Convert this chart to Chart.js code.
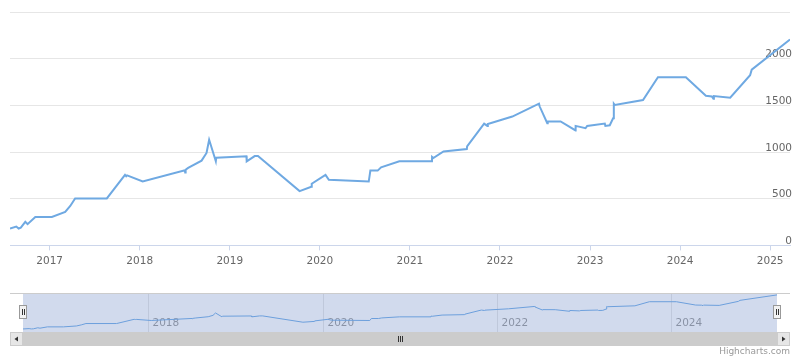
<!DOCTYPE html>
<html><head><meta charset="utf-8">
<script src="https://cdn.jsdelivr.net/npm/chart.js@4/dist/chart.umd.min.js"></script>
<style>
html,body{margin:0;padding:0;background:#fff;}
#wrap{position:relative;width:800px;height:361px;overflow:hidden;background:#fff;}
#main{position:absolute;left:0;top:0;}
#nav{position:absolute;left:0;top:0;}
#credits{position:absolute;right:10px;top:346px;font:9px "DejaVu Sans",sans-serif;color:#999;}
</style></head><body>
<div id="wrap">
<canvas id="main" width="800" height="273"></canvas>
<canvas id="nav" width="800" height="361"></canvas>
<div id="credits">Highcharts.com</div>
</div>
<script>
// Dates as decimal years
const dates = [
  2016.56, 2016.63, 2016.656, 2016.68, 2016.73, 2016.755, 2016.841, 2017.025,
  2017.173, 2017.229, 2017.283, 2017.635, 2017.837, 2017.85, 2017.86, 2018.033,
  2018.502, 2018.505, 2018.51, 2018.538, 2018.687, 2018.742, 2018.771, 2018.834,
  2018.845, 2018.85, 2019.185, 2019.188, 2019.277, 2019.313, 2019.775, 2019.905,
  2019.91, 2020.063, 2020.100, 2020.543, 2020.561, 2020.642, 2020.680, 2020.883,
  2021.245, 2021.246, 2021.26, 2021.373, 2021.632, 2021.635, 2021.824, 2021.86,
  2021.865, 2022.137, 2022.433, 2022.44, 2022.525, 2022.53, 2022.673, 2022.839,
  2022.84, 2022.950, 2022.968, 2023.164, 2023.17, 2023.219, 2023.256, 2023.264,
  2023.275, 2023.588, 2023.754, 2024.064, 2024.286, 2024.352, 2024.37, 2024.375,
  2024.556, 2024.777, 2024.795, 2025.220
];
const values = [
  181, 202, 181, 190, 252, 227, 305, 305,
  358, 422, 503, 503, 755, 740, 750, 684,
  805, 780, 810, 830, 908, 990, 1131, 936,
  901, 940, 954, 901, 957, 957, 582, 628,
  660, 755, 702, 684, 801, 801, 837, 901,
  901, 947, 935, 1007, 1032, 1060, 1305, 1280,
  1300, 1380, 1518, 1490, 1309, 1330, 1327, 1231,
  1280, 1255, 1280, 1305, 1280, 1287, 1362, 1518,
  1504, 1557, 1801, 1801, 1603, 1596, 1570, 1600,
  1582, 1823, 1883, 2206
];
const xTickYears = [2017, 2018, 2019, 2020, 2021, 2022, 2023, 2024, 2025];
const yTickValues = [0, 500, 1000, 1500, 2000, 2500];
const yTickLabels = ['0', '500', '1000', '1500', '2000', ''];
const navTickYears = [2018, 2020, 2022, 2024];
const navTickLabels = ['2018', '2020', '2022', '2024'];
const xMin = 2016.56, xMax = 2025.22;

const FONT = 'DejaVu Sans';
const points = dates.map((d, i) => ({x: d, y: values[i]}));

new Chart(document.getElementById('main'), {
  type: 'line',
  data: {datasets: [{data: points, borderColor: '#6fa9e2', borderWidth: 2, pointRadius: 0, fill: false, tension: 0}]},
  options: {
    responsive: false, animation: false, events: [],
    layout: {padding: {left: 10, right: 6, top: 12, bottom: 0}},
    plugins: {legend: {display: false}, tooltip: {enabled: false}},
    scales: {
      x: {
        type: 'linear', min: xMin, max: xMax,
        afterBuildTicks: ax => { ax.ticks = xTickYears.map(v => ({value: v})); },
        ticks: {callback: v => String(v), color: '#666', font: {family: FONT, size: 10.5}, padding: 5, maxRotation: 0, autoSkip: false},
        grid: {drawOnChartArea: false, drawTicks: true, tickLength: 5, color: '#ccd6eb'},
        border: {display: true, color: '#ccd6eb'}
      },
      y: {
        position: 'right', min: 0, max: 2500,
        afterBuildTicks: ax => { ax.ticks = yTickValues.map(v => ({value: v})); },
        ticks: {mirror: true, padding: 2, labelOffset: -4, callback: (v, i) => yTickLabels[i], color: '#666', font: {family: FONT, size: 10.5}},
        grid: {color: '#e6e6e6', drawTicks: false},
        border: {display: false}
      }
    }
  }
});

const navDecor = {
  id: 'navDecor',
  beforeDatasetsDraw(chart) {
    const ctx = chart.ctx, a = chart.chartArea, xs = chart.scales.x;
    ctx.save();
    ctx.strokeStyle = '#e6e6e6'; ctx.lineWidth = 1;
    ctx.font = '10.5px "' + FONT + '"'; ctx.fillStyle = '#999'; ctx.textBaseline = 'middle'; ctx.textAlign = 'left';
    navTickYears.forEach((yr, i) => {
      const px = Math.round(xs.getPixelForValue(yr)) + 0.5;
      ctx.beginPath(); ctx.moveTo(px, a.top); ctx.lineTo(px, a.bottom); ctx.stroke();
      ctx.fillText(navTickLabels[i], px + 4, a.top + 30);
    });
    ctx.fillStyle = 'rgba(102,133,194,0.3)';
    ctx.fillRect(a.left, a.top, a.right - a.left, a.bottom - a.top);
    ctx.restore();
  },
  afterDatasetsDraw(chart) {
    const ctx = chart.ctx, a = chart.chartArea;
    ctx.save();
    // outline
    ctx.strokeStyle = '#cccccc'; ctx.lineWidth = 1;
    ctx.beginPath(); ctx.moveTo(10, a.top + 0.5); ctx.lineTo(790, a.top + 0.5); ctx.stroke();
    // scrollbar
    const sy = 332, sh = 14;
    ctx.fillStyle = '#f2f2f2'; ctx.fillRect(10, sy, 780, sh);
    ctx.fillStyle = '#cccccc'; ctx.fillRect(a.left, sy, a.right - a.left, sh);
    [[10, -1], [a.right, 1]].forEach(([bx, dir]) => {
      ctx.fillStyle = '#e6e6e6'; ctx.fillRect(bx, sy, 13, sh);
      ctx.strokeStyle = '#cccccc'; ctx.strokeRect(bx + 0.5, sy + 0.5, 12, sh - 1);
      ctx.fillStyle = '#333';
      const cx = bx + 6.5, cy = sy + 7;
      ctx.beginPath();
      ctx.moveTo(cx + dir * 2, cy); ctx.lineTo(cx - dir * 1.5, cy - 2.5); ctx.lineTo(cx - dir * 1.5, cy + 2.5);
      ctx.closePath(); ctx.fill();
    });
    // grip
    const gx = Math.round((a.left + a.right) / 2);
    ctx.strokeStyle = '#333'; ctx.lineWidth = 1;
    [-2, 0, 2].forEach(o => { ctx.beginPath(); ctx.moveTo(gx + o + 0.5, sy + 4); ctx.lineTo(gx + o + 0.5, sy + 10); ctx.stroke(); });
    // handles
    [a.left, a.right].forEach(hx => {
      const x0 = Math.round(hx) - 4, y0 = 305;
      ctx.fillStyle = '#f2f2f2'; ctx.fillRect(x0, y0, 8, 14);
      ctx.strokeStyle = '#999'; ctx.strokeRect(x0 + 0.5, y0 + 0.5, 7, 13);
      ctx.strokeStyle = '#333';
      [3, 5].forEach(o => { ctx.beginPath(); ctx.moveTo(x0 + o + 0.5, y0 + 4); ctx.lineTo(x0 + o + 0.5, y0 + 10); ctx.stroke(); });
    });
    ctx.restore();
  }
};

new Chart(document.getElementById('nav'), {
  type: 'line',
  data: {datasets: [{data: points, borderColor: '#6c9fdc', borderWidth: 1, pointRadius: 0, tension: 0, fill: false}]},
  options: {
    responsive: false, animation: false, events: [],
    layout: {padding: {left: 23, right: 23, top: 293, bottom: 28}},
    plugins: {legend: {display: false}, tooltip: {enabled: false}},
    scales: {
      x: {type: 'linear', display: false, min: xMin, max: xMax},
      y: {display: false, min: -60, max: 2320}
    }
  },
  plugins: [navDecor]
});
</script>
</body></html>
